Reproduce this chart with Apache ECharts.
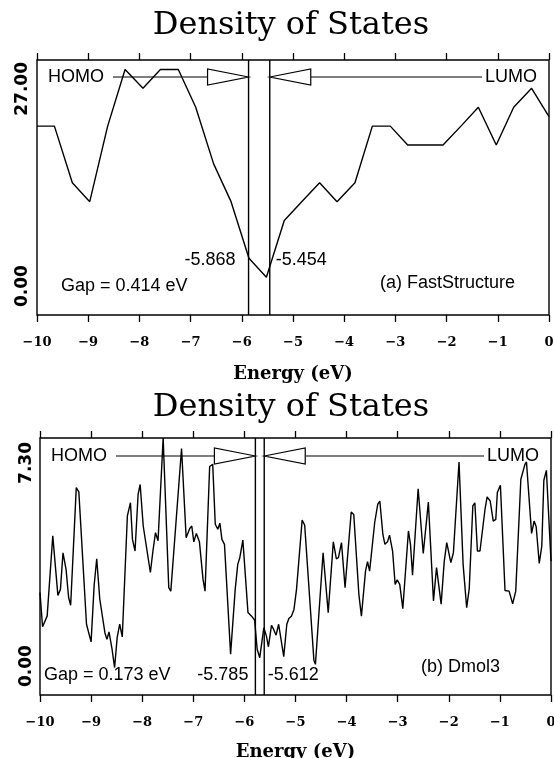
<!DOCTYPE html>
<html>
<head>
<meta charset="utf-8">
<script src="https://cdn.jsdelivr.net/npm/echarts@6/dist/echarts.min.js"></script>
<style>
  html, body { margin: 0; background: #fff; }
  #dos { width: 554px; height: 758px; }
</style>
</head>
<body>
<div id="dos"></div>
<script>
// (a) FastStructure
const energyA = [-10, -9.66, -9.31, -8.97, -8.62, -8.28, -7.93, -7.59, -7.24, -6.90,
  -6.55, -6.21, -5.86, -5.52, -5.17, -4.83, -4.48, -4.14, -3.79, -3.45,
  -3.10, -2.76, -2.41, -2.07, -1.72, -1.38, -1.03, -0.69, -0.34, 0]
const dosA = [20, 20, 14, 12, 20, 26, 24, 26, 26, 22,
  16, 12, 6, 4, 10, 12, 14, 12, 14, 20,
  20, 18, 18, 18, 20, 22, 18, 22, 24, 21]
const levelsA = [-5.868, -5.454]   // HOMO, LUMO
const yMaxA = 27

// (b) Dmol3
const energyB = [-10.00, -9.95, -9.86, -9.75, -9.65, -9.60, -9.55, -9.49, -9.44, -9.40,
  -9.29, -9.24, -9.09, -9.00, -8.94, -8.89, -8.83, -8.73, -8.69, -8.65,
  -8.59, -8.54, -8.49, -8.44, -8.39, -8.29, -8.23, -8.19, -8.14, -8.08,
  -8.04, -7.98, -7.84, -7.79, -7.74, -7.69, -7.59, -7.48, -7.44, -7.23,
  -7.14, -7.07, -7.03, -6.99, -6.94, -6.88, -6.81, -6.77, -6.68, -6.62,
  -6.57, -6.52, -6.48, -6.44, -6.39, -6.27, -6.18, -6.13, -6.09, -6.03,
  -5.93, -5.86, -5.80, -5.75, -5.70, -5.67, -5.62, -5.57, -5.53, -5.47,
  -5.43, -5.38, -5.33, -5.23, -5.17, -5.13, -5.08, -5.03, -4.98, -4.87,
  -4.82, -4.64, -4.61, -4.46, -4.36, -4.26, -4.20, -4.16, -4.10, -4.03,
  -3.91, -3.86, -3.76, -3.71, -3.63, -3.59, -3.55, -3.45, -3.39, -3.35,
  -3.29, -3.25, -3.20, -3.16, -3.10, -3.05, -3.01, -2.96, -2.90, -2.79,
  -2.75, -2.71, -2.60, -2.50, -2.40, -2.30, -2.24, -2.15, -2.09, -2.04,
  -1.96, -1.91, -1.80, -1.72, -1.65, -1.60, -1.53, -1.49, -1.44, -1.39,
  -1.29, -1.25, -1.19, -1.13, -1.08, -1.05, -0.99, -0.90, -0.82, -0.75,
  -0.69, -0.59, -0.51, -0.48, -0.38, -0.33, -0.29, -0.23, -0.18, -0.14,
  -0.09, 0.00]
const dosB = [2.91, 1.94, 2.24, 4.52, 2.83, 3.00, 4.04, 3.57, 2.77, 2.55,
  5.89, 5.77, 2.01, 1.51, 3.12, 3.87, 2.72, 1.77, 1.58, 1.79,
  1.30, 0.78, 1.63, 2.01, 1.65, 5.09, 5.46, 4.42, 4.09, 5.70,
  5.98, 4.80, 3.48, 4.09, 4.61, 4.38, 7.30, 3.05, 2.95, 7.00,
  4.47, 4.73, 4.80, 4.35, 4.59, 4.35, 3.29, 2.95, 6.49, 6.55,
  4.85, 4.71, 4.88, 4.42, 4.28, 1.16, 3.00, 3.71, 3.90, 4.40,
  2.34, 2.24, 2.13, 1.30, 1.06, 1.03, 1.91, 1.68, 1.37, 1.98,
  1.87, 1.70, 2.01, 1.09, 2.01, 2.17, 2.24, 2.43, 3.00, 4.97,
  4.82, 0.99, 0.87, 4.04, 2.34, 4.35, 3.87, 3.90, 4.33, 3.05,
  5.20, 5.13, 2.86, 2.24, 3.52, 3.79, 3.52, 4.90, 5.42, 5.51,
  4.56, 4.28, 4.35, 4.54, 4.09, 3.14, 3.27, 3.14, 2.45, 4.66,
  4.28, 3.40, 5.86, 4.02, 5.48, 2.67, 3.62, 2.58, 3.78, 4.33,
  3.76, 4.04, 6.62, 3.71, 2.48, 3.02, 5.37, 5.46, 4.09, 4.09,
  5.29, 5.63, 5.51, 4.94, 4.99, 5.75, 5.96, 2.97, 2.95, 2.59,
  2.95, 6.13, 6.55, 6.62, 4.59, 4.94, 4.78, 3.74, 4.23, 6.10,
  6.38, 3.80]
const levelsB = [-5.785, -5.612]
const yMaxB = 7.3

const xTicks = { min: -10, max: 0, interval: 1 }
const captions = ['(a) FastStructure', '(b) Dmol3']

const chart = echarts.init(document.getElementById('dos'))

const serifBold = { fontFamily: 'DejaVu Serif', fontWeight: 'bold', color: '#000' }
const annoFont = { fontFamily: 'Liberation Sans', fontSize: 18, fill: '#000' }

function xAxes (gi, nameGap, labelMargin) {
  const common = {
    type: 'value', gridIndex: gi,
    min: xTicks.min, max: xTicks.max, interval: xTicks.interval,
    axisLine: { show: false },
    axisTick: { show: true, length: 7, lineStyle: { color: '#000', width: 1.3 } },
    splitLine: { show: false }
  }
  return [
    Object.assign({}, common, {
      position: 'bottom',
      axisLabel: Object.assign({ fontSize: 13, margin: labelMargin,
        formatter: v => String(v).replace('-', '\u2212') }, serifBold),
      name: 'Energy (eV)', nameLocation: 'middle', nameGap: nameGap,
      nameTextStyle: Object.assign({ fontSize: 18 }, serifBold)
    }),
    Object.assign({}, common, { position: 'top', axisLabel: { show: false } })
  ]
}

// y labels only at the two ends, pushed in a little from the frame corners
function yAxis (gi, yMax, margin, padLo, padHi) {
  const font = { fontFamily: 'DejaVu Sans', fontWeight: 'bold', fontSize: 17, color: '#000' }
  return {
    type: 'value', gridIndex: gi, min: 0, max: yMax, interval: yMax,
    axisLine: { show: false }, axisTick: { show: false }, splitLine: { show: false },
    axisLabel: Object.assign({
      rotate: 90, margin: margin,
      alignMinLabel: 'left', alignMaxLabel: 'right',
      formatter: (v, i) => (i === 0 ? '{lo|' : '{hi|') + v.toFixed(2) + '}',
      rich: {
        lo: Object.assign({ padding: [0, 0, 0, padLo] }, font),
        hi: Object.assign({ padding: [0, padHi, 0, 0] }, font)
      }
    }, font)
  }
}

// HOMO / LUMO markers, value labels, gap text and caption
function gapSeries (gi, levels, caption, o) {
  return {
    type: 'custom',
    xAxisIndex: gi * 2,
    yAxisIndex: gi,
    data: levels.map((e, i) => [e, 0, i]),
    encode: { x: 0, y: 1 },
    clip: false,
    silent: true,
    z: 3,
    renderItem: function (params, api) {
      const cs = params.coordSys
      const isHomo = api.value(2) === 0
      const e = api.value(0)
      const px = api.coord([e, 0])[0]
      const bottom = cs.y + cs.height
      const ay = cs.y + o.arrowY
      const dir = isHomo ? -1 : 1
      const base = px + dir * 41
      const stroke = { stroke: '#000', lineWidth: 1.2 }
      const children = [
        { type: 'line', shape: { x1: px, y1: cs.y, x2: px, y2: bottom }, style: Object.assign({}, stroke, { lineWidth: 1.4 }) },
        { type: 'line', shape: isHomo
          ? { x1: cs.x + 76, y1: ay, x2: base, y2: ay }
          : { x1: base, y1: ay, x2: cs.x + cs.width - 67, y2: ay }, style: stroke },
        { type: 'polygon', shape: { points: [[px, ay], [base, ay - 8], [base, ay + 8]] },
          style: Object.assign({ fill: '#fff' }, stroke) },
        { type: 'text', style: Object.assign({
          text: isHomo ? 'HOMO' : 'LUMO',
          x: isHomo ? cs.x + 11 : cs.x + cs.width - 12,
          y: ay, align: isHomo ? 'left' : 'right', verticalAlign: 'middle' }, annoFont) },
        { type: 'text', style: Object.assign({
          text: e.toFixed(3),
          x: isHomo ? px - o.homoGap : px + o.lumoGap,
          y: bottom - o.labelDy, align: isHomo ? 'right' : 'left', verticalAlign: 'middle' }, annoFont) }
      ]
      if (isHomo) {
        children.push(
          { type: 'text', style: Object.assign({
            text: 'Gap = ' + (levels[1] - levels[0]).toFixed(3) + ' eV',
            x: cs.x + o.gapX, y: bottom - o.gapDy, verticalAlign: 'middle' }, annoFont) },
          { type: 'text', style: Object.assign({
            text: caption,
            x: cs.x + o.capX, y: bottom - o.capDy, verticalAlign: 'middle' }, annoFont) }
        )
      }
      return { type: 'group', children: children }
    }
  }
}

function dosSeries (gi, xs, ys) {
  return {
    type: 'line',
    xAxisIndex: gi * 2,
    yAxisIndex: gi,
    data: xs.map((x, i) => [x, ys[i]]),
    showSymbol: false,
    lineStyle: { color: '#000', width: 1.4 },
    z: 2
  }
}

const titleStyle = { fontFamily: 'DejaVu Serif', fontWeight: 'normal', fontSize: 32, color: '#000' }

const option = {
  animation: false,
  backgroundColor: '#fff',
  title: [
    { text: 'Density of States', left: 291, top: 10, textAlign: 'center', padding: 0, textStyle: titleStyle },
    { text: 'Density of States', left: 291, top: 392, textAlign: 'center', padding: 0, textStyle: titleStyle }
  ],
  grid: [
    { left: 37, top: 60, width: 512, height: 255, show: true, borderColor: '#000', borderWidth: 1.4, outerBoundsMode: 'none' },
    { left: 40, top: 438, width: 511, height: 257, show: true, borderColor: '#000', borderWidth: 1.4, outerBoundsMode: 'none' }
  ],
  xAxis: xAxes(0, 50, 21).concat(xAxes(1, 48, 21)),
  yAxis: [yAxis(0, yMaxA, 6, 8, 2), yAxis(1, yMaxB, 5, 8, 4)],
  series: [
    dosSeries(0, energyA, dosA),
    dosSeries(1, energyB, dosB),
    gapSeries(0, levelsA, captions[0],
      { arrowY: 17, homoGap: 13, lumoGap: 6, labelDy: 54.5, gapX: 24, gapDy: 28.5, capX: 343, capDy: 32 }),
    gapSeries(1, levelsB, captions[1],
      { arrowY: 18, homoGap: 7, lumoGap: 3.5, labelDy: 20, gapX: 4, gapDy: 20, capX: 381, capDy: 28 })
  ]
}

chart.setOption(option)

window.addEventListener('resize', function () {
  chart.resize()
})
</script>
</body>
</html>
